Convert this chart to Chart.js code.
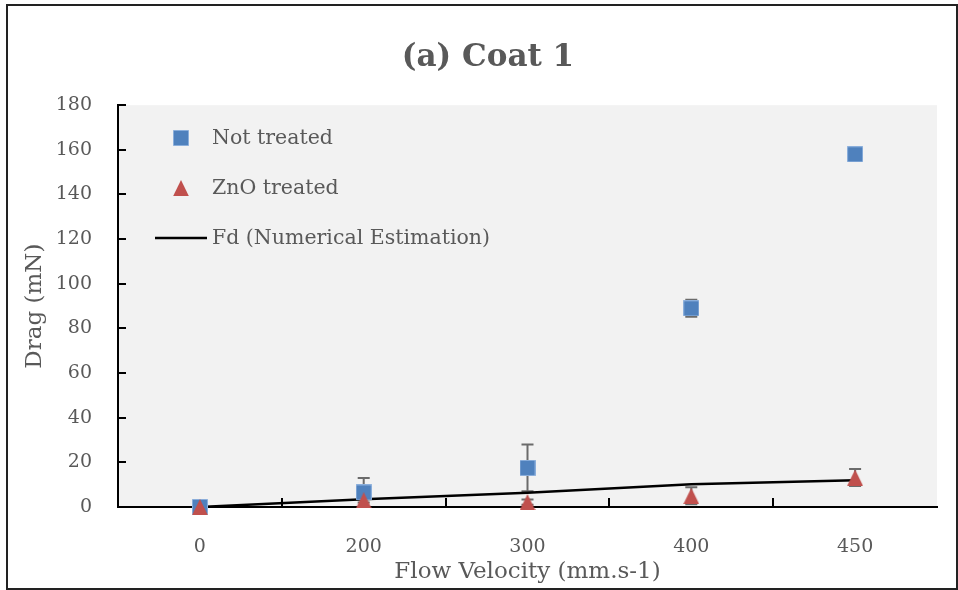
<!DOCTYPE html>
<html><head><meta charset="utf-8">
<script src="https://cdn.jsdelivr.net/npm/chart.js@4.4.1/dist/chart.umd.min.js"></script>
<style>html,body{margin:0;padding:0;background:#fff;}</style>
</head><body>
<canvas id="c" width="958" height="590"></canvas>
<script>
// ---- data ----
const categories = ['0', '200', '300', '400', '450'];
const notTreated = [0, 6.5, 17.5, 89, 158];
const notTreatedErr = [0, 6.5, 10.5, 3.8, 3];
const znoTreated = [0, 3, 2.2, 5, 13.2];
const znoTreatedErr = [0, 1, 1.2, 3.8, 3.8];
const fdEstimate = [0, 3.5, 6.4, 10.2, 12];
const yMin = 0, yMax = 180, yStep = 20;

const TEXT = '#595959';
const FONT = 'DejaVu Serif';
const BLUE = '#4F81BD';
const RED = '#C0504D';

function makeMarker(kind, color, edge) {
  const c = document.createElement('canvas');
  c.width = 16; c.height = 16;
  const g = c.getContext('2d');
  g.fillStyle = color;
  g.beginPath();
  if (kind === 'square') {
    g.rect(0.5, 0.5, 15, 15);
    g.fill();
    g.strokeStyle = edge; g.lineWidth = 1; g.stroke();
  } else {
    g.moveTo(8, 0); g.lineTo(15.8, 16); g.lineTo(0.2, 16); g.closePath();
    g.fill();
  }
  return c;
}
const squareImg = makeMarker('square', BLUE, '#8aaedb');
const triImg = makeMarker('triangle', RED);

const bgPlugin = {
  id: 'bg',
  beforeDraw(chart) {
    const {ctx, chartArea: a} = chart;
    ctx.save();
    ctx.fillStyle = '#fff';
    ctx.fillRect(0, 0, chart.width, chart.height);
    ctx.fillStyle = '#F2F2F2';
    ctx.fillRect(a.left, a.top, a.right - a.left, a.bottom - a.top);
    ctx.strokeStyle = '#222';
    ctx.lineWidth = 2;
    ctx.strokeRect(7, 5, 950, 584);
    ctx.restore();
  },
  afterLayout(chart) {
    chart.titleBlock.left += 31;
  }
};

const innerTicks = {
  id: 'innerTicks',
  afterDraw(chart) {
    const {ctx} = chart;
    const x = chart.scales.x, y = chart.scales.y;
    ctx.save();
    ctx.strokeStyle = '#000';
    ctx.lineWidth = 2;
    ctx.beginPath();
    y.ticks.forEach(t => {
      const py = Math.round(y.getPixelForValue(t.value));
      ctx.moveTo(y.right, py); ctx.lineTo(y.right + 8, py);
    });
    const n = categories.length;
    for (let i = 1; i < n; i++) {
      const px = Math.round(x.left + i * (x.right - x.left) / n);
      ctx.moveTo(px, x.top); ctx.lineTo(px, x.top - 9);
    }
    ctx.stroke();
    ctx.restore();
  }
};

const errorBars = {
  id: 'errorBars',
  beforeDatasetsDraw(chart) {
    const {ctx} = chart;
    const y = chart.scales.y;
    ctx.save();
    ctx.strokeStyle = '#6b6b6b';
    ctx.lineWidth = 2;
    chart.data.datasets.forEach((ds, di) => {
      if (!ds.errors) return;
      const meta = chart.getDatasetMeta(di);
      meta.data.forEach((pt, i) => {
        const e = ds.errors[i];
        if (!e) return;
        const v = ds.data[i];
        const yt = y.getPixelForValue(v + e), yb = y.getPixelForValue(v - e);
        ctx.beginPath();
        ctx.moveTo(pt.x, yt); ctx.lineTo(pt.x, yb);
        ctx.moveTo(pt.x - 6, yt); ctx.lineTo(pt.x + 6, yt);
        ctx.moveTo(pt.x - 6, yb); ctx.lineTo(pt.x + 6, yb);
        ctx.stroke();
      });
    });
    ctx.restore();
  }
};

const customLegend = {
  id: 'customLegend',
  afterDraw(chart) {
    const {ctx} = chart;
    const ds = chart.data.datasets;
    const order = [1, 0, 2];
    const rows = [138, 188, 238];
    ctx.save();
    ctx.font = '20.5px "' + FONT + '"';
    ctx.textBaseline = 'middle';
    order.forEach((di, r) => {
      const d = ds[di];
      const cy = rows[r];
      if (d.showLine) {
        ctx.strokeStyle = d.borderColor; ctx.lineWidth = 2.5;
        ctx.beginPath(); ctx.moveTo(155, cy); ctx.lineTo(207, cy); ctx.stroke();
      } else {
        const img = d.pointStyle;
        ctx.drawImage(img, 181 - img.width / 2, cy - img.height / 2);
      }
      ctx.fillStyle = TEXT;
      ctx.fillText(d.label, 212, cy + 1);
    });
    ctx.restore();
  }
};

new Chart(document.getElementById('c'), {
  type: 'line',
  data: {
    labels: categories,
    datasets: [
      { label: 'ZnO treated', data: znoTreated, errors: znoTreatedErr, showLine: false,
        pointStyle: triImg, pointRadius: 8, backgroundColor: RED, borderColor: RED,
        order: 1, clip: false },
      { label: 'Not treated', data: notTreated, errors: notTreatedErr, showLine: false,
        pointStyle: squareImg, pointRadius: 8, backgroundColor: BLUE, borderColor: BLUE,
        order: 2, clip: false },
      { label: 'Fd (Numerical Estimation)', data: fdEstimate, showLine: true,
        borderColor: '#000', borderWidth: 2.5, pointRadius: 0, tension: 0, order: 3, clip: false }
    ]
  },
  options: {
    responsive: false,
    animation: false,
    devicePixelRatio: 1,
    layout: { padding: { left: 8, right: 21, top: 0, bottom: 0 } },
    plugins: {
      legend: { display: false },
      tooltip: { enabled: false },
      title: {
        display: true, text: '(a) Coat 1', color: TEXT,
        font: { family: FONT, size: 31, weight: 'bold' },
        padding: { top: 39, bottom: 29 }
      }
    },
    scales: {
      x: {
        type: 'category', offset: true,
        grid: { display: false, drawTicks: false },
        border: { display: true, color: '#000', width: 2 },
        ticks: { color: TEXT, font: { family: FONT, size: 19 }, padding: 29 },
        title: { display: true, text: 'Flow Velocity (mm.s-1)', color: TEXT,
          font: { family: FONT, size: 23 }, padding: { top: 0, bottom: 4 } },
        afterFit(s) { s.height = 83; }
      },
      y: {
        min: yMin, max: yMax,
        grid: { display: false, drawTicks: false },
        border: { display: true, color: '#000', width: 2 },
        ticks: { stepSize: yStep, color: TEXT, font: { family: FONT, size: 19 }, padding: 26 },
        title: { display: true, text: 'Drag (mN)', color: TEXT,
          font: { family: FONT, size: 23 }, padding: { top: 13, bottom: 0 } },
        afterFit(s) { s.width = 110; }
      }
    }
  },
  plugins: [bgPlugin, errorBars, innerTicks, customLegend]
});
</script>
</body></html>
